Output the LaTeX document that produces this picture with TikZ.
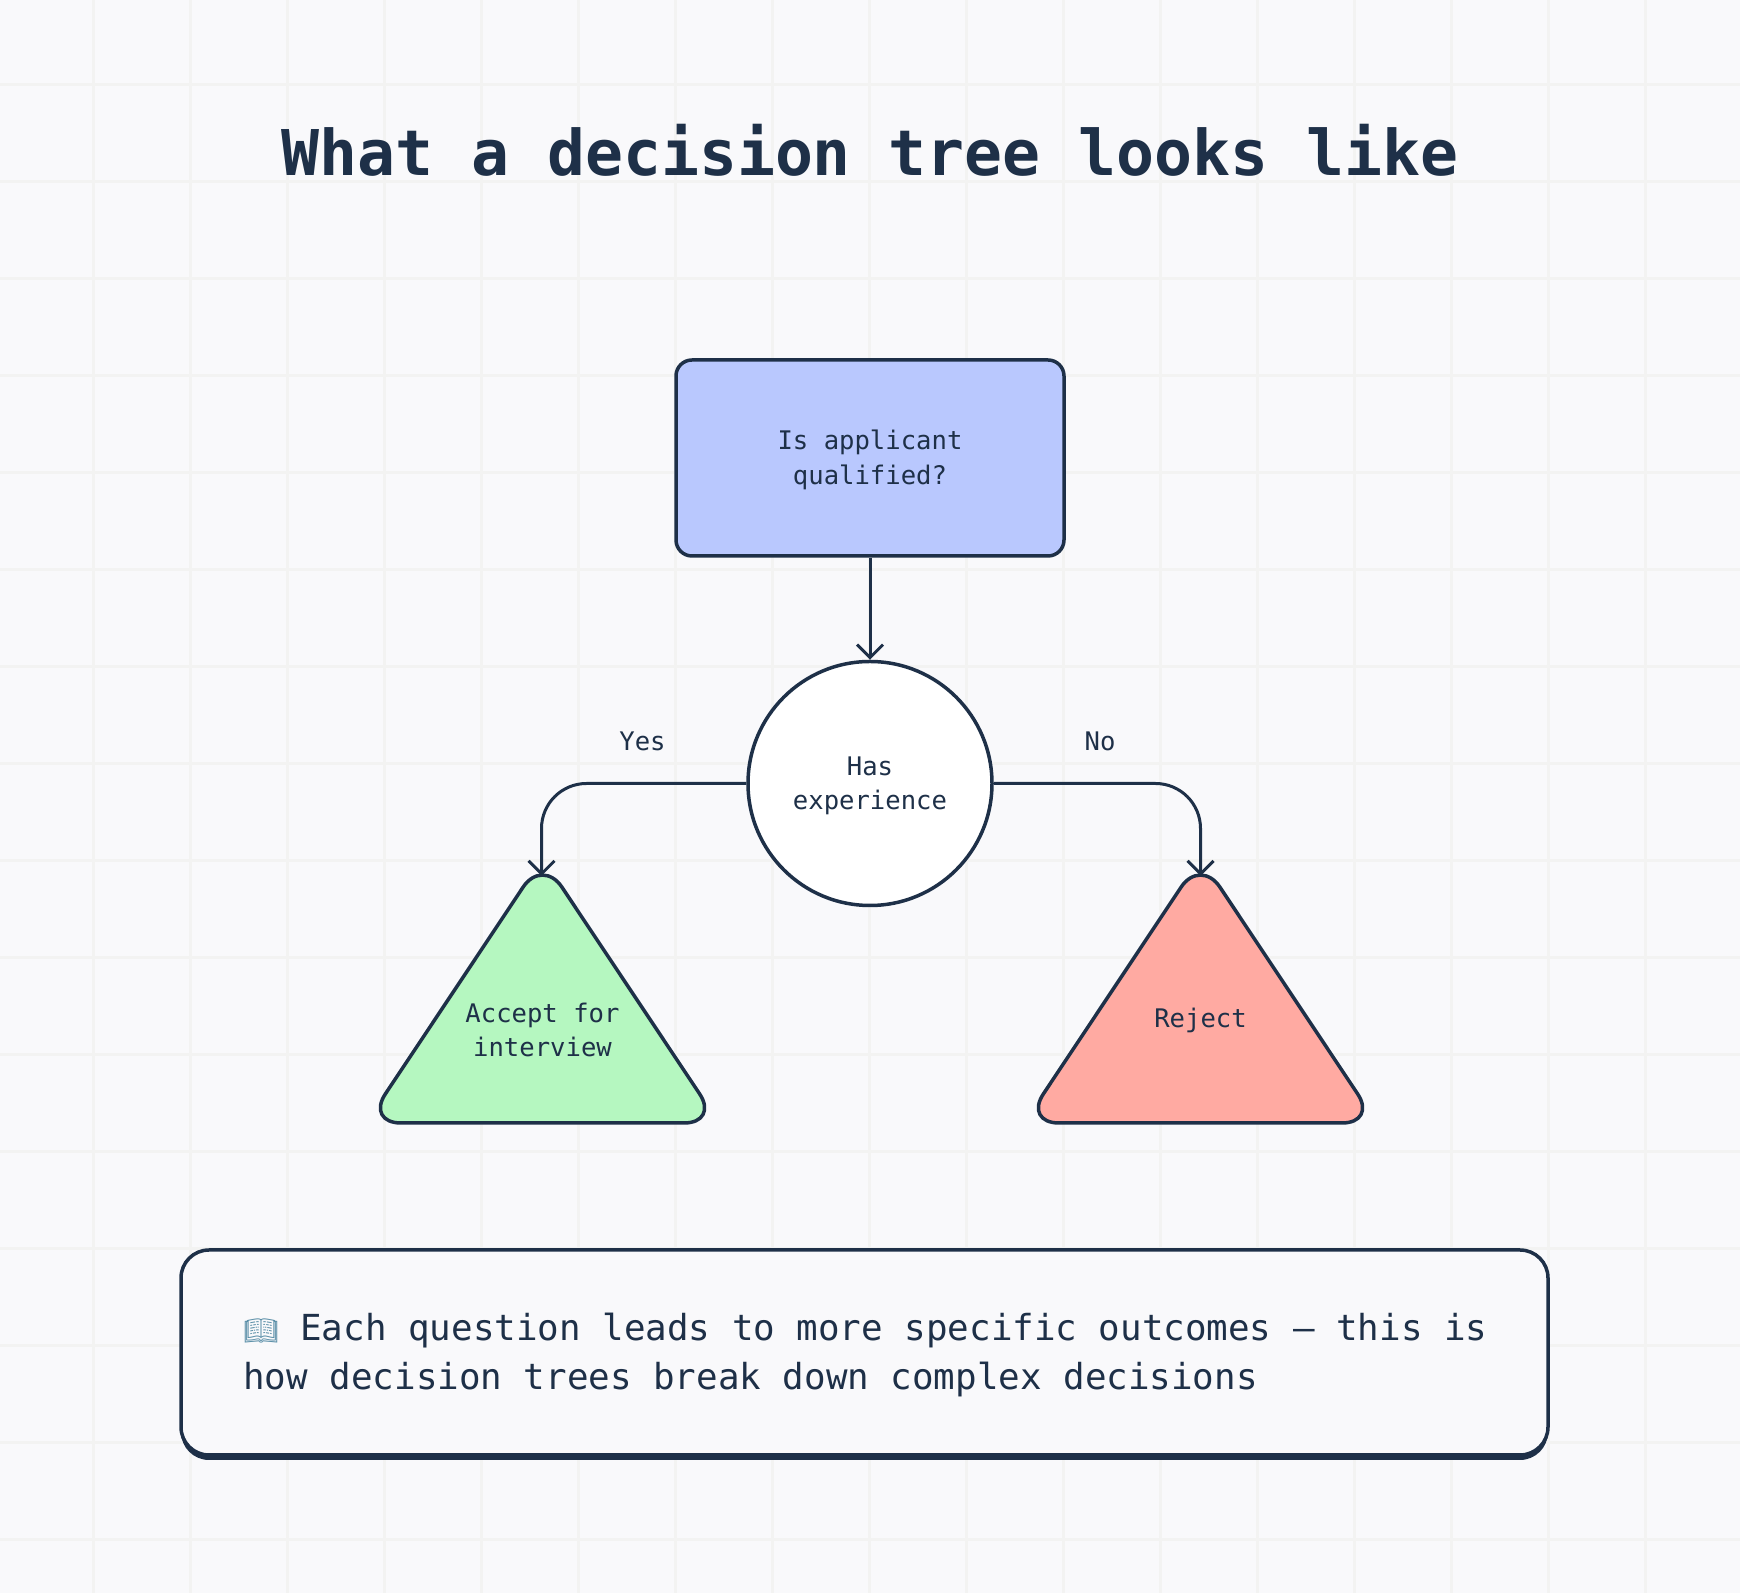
\documentclass[tikz,border=0pt]{standalone}
\usepackage{fontspec}
\setmonofont{DejaVu Sans Mono}
\newfontfamily\emojifont{Noto Emoji}
\usetikzlibrary{arrows.meta,shadows}
\definecolor{ink}{HTML}{1E3048}
\definecolor{paper}{HTML}{F9F9FB}
\definecolor{gridgrey}{HTML}{F3F3F2}
\definecolor{askblue}{HTML}{B9C8FE}
\definecolor{yesgreen}{HTML}{B5F7C0}
\definecolor{nored}{HTML}{FFAAA2}
\definecolor{bookblue}{HTML}{5B8FA8}
\tikzset{
  gridline/.style={gridgrey,line width=0.06cm},
  shapeline/.style={draw=ink,line width=0.07cm},
  link/.style={ink,line width=0.06cm,-{Straight Barb[length=0.26cm,width=0.52cm]}},
  title/.style={text=ink,font=\ttfamily\bfseries\fontsize{35.9}{43}\selectfont},
  label/.style={text=ink,font=\ttfamily\fontsize{14.56}{19.6}\selectfont,align=center},
  notetext/.style={text=ink,font=\ttfamily\fontsize{20.4}{27.4}\selectfont,align=left},
}
\begin{document}
\begin{tikzpicture}
\useasboundingbox (0,0) rectangle (34.8,31.86);
\fill [paper] (0,0) rectangle (34.8,31.86);
% Grille
\begin{scope}
\clip (0,0) rectangle (34.8,31.86);
\foreach \x in {0,...,17} \draw [gridline] (1.86+1.94*\x,0) -- (1.86+1.94*\x,31.86);
\foreach \y in {0,...,15} \draw [gridline] (0,30.16-1.94*\y) -- (34.8,30.16-1.94*\y);
\end{scope}
\node (heading) [title] at (17.4,28.86) {What a decision tree looks like};
% Noeuds
\node (qualified) [shapeline,fill=askblue,rounded corners=0.32cm,minimum width=7.76cm,minimum height=3.92cm,label] at (17.4,22.7) {\rule{0pt}{13.5pt}Is applicant\\qualified?};
\node (experience) [shapeline,circle,fill=white,minimum size=4.88cm,label] at (17.4,16.19) {\rule{0pt}{13.5pt}Has\\experience};
\draw [shapeline,fill=yesgreen,rounded corners=0.7cm] (7.32,9.4) -- (10.85,14.7) -- (14.38,9.4) -- cycle;
\draw [shapeline,fill=nored,rounded corners=0.7cm] (20.48,9.4) -- (24.01,14.7) -- (27.54,9.4) -- cycle;
\coordinate (accepttop) at (10.83,14.34);
\coordinate (rejecttop) at (24.01,14.34);
\node (accept) [label] at (10.85,11.26) {Accept for\\interview};
\node (reject) [label] at (24.01,11.46) {Reject};
% Flèches
\draw [link] (qualified) -- (experience);
\draw [link,rounded corners=0.9cm] (experience.west) -| (accepttop);
\draw [link,rounded corners=0.9cm] (experience.east) -| (rejecttop);
\node (yes) [label] at (12.85,17.03) {Yes};
\node (no) [label] at (22,17.03) {No};
% Note
\node (note) [shapeline,fill=paper,rounded corners=0.56cm,minimum width=27.34cm,minimum height=4.1cm,drop shadow={shadow xshift=0cm,shadow yshift=-0.1cm,opacity=1,fill=ink}] at (17.29,4.81) {};
\node (notebody) [notetext,anchor=west,inner sep=0pt] at (4.86,4.76) {{\emojifont\fontsize{15.9}{20}\selectfont\color{bookblue}\symbol{"1F4D6}} Each question leads to more specific outcomes – this is\\how decision trees break down complex decisions};
\end{tikzpicture}
\end{document}
